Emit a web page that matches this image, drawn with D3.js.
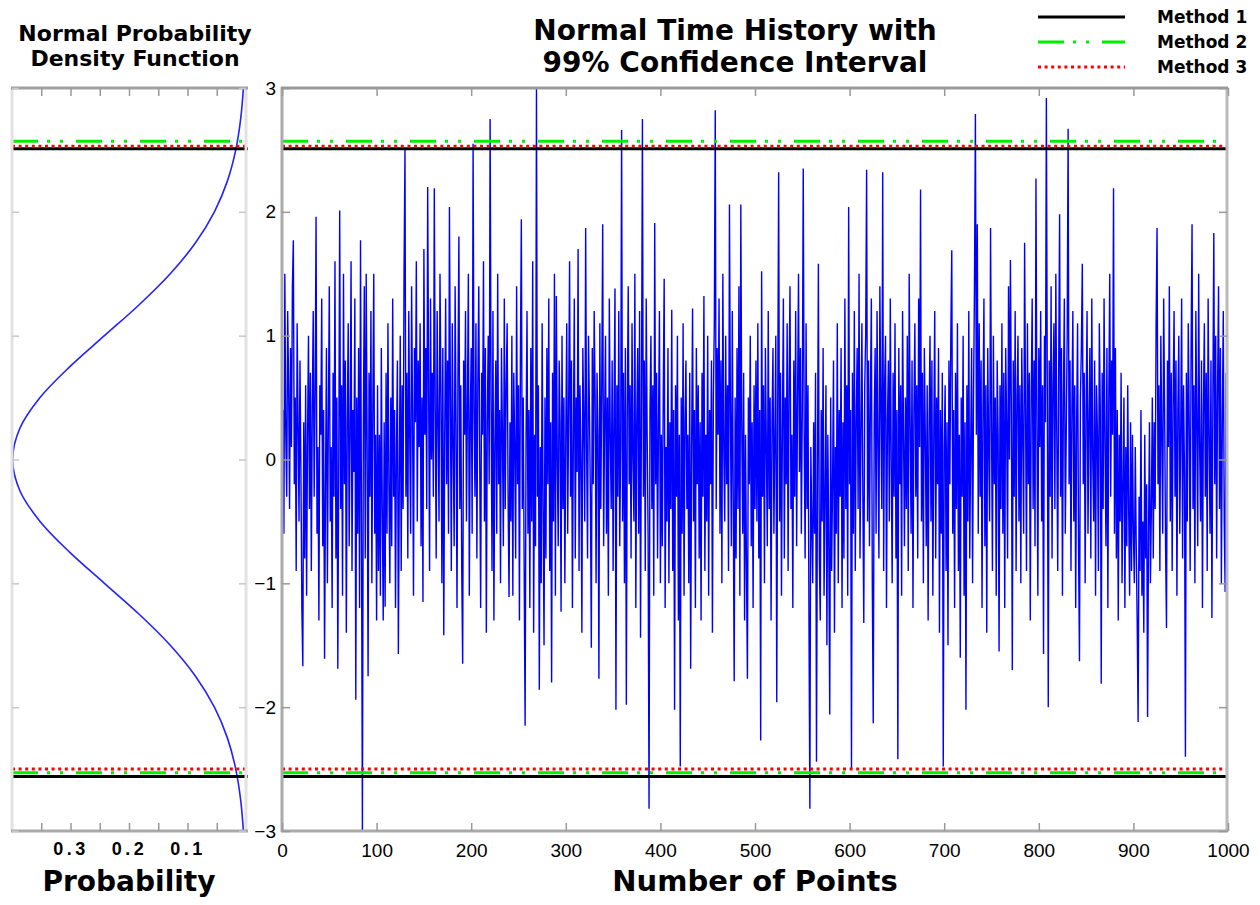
<!DOCTYPE html>
<html>
<head>
<meta charset="utf-8">
<script src="https://cdn.jsdelivr.net/npm/d3@7"></script>
<style>
body{margin:0;background:#fff;}
</style>
</head>
<body>
<svg id="chart" width="1260" height="905"></svg>
<script>
// time history, 1000 points
var seriesY = [
0.4,-0.6,1.5,0.2,-0.3,1.2,0.6,-0.4,0.9,0.1,1.4,1.77,-0.2,0.5,-0.9,1.1,0.3,-0.5,0.8,-0.1,
-1.2,-1.67,0.3,-0.8,0.6,-1.1,0.2,1.0,-0.4,0.7,-0.9,0.4,1.2,-0.3,0.5,1.96,-0.6,0.1,-1.3,0.6,
0.2,1.3,-0.7,0.4,-1.61,-0.2,0.9,-1.0,0.3,1.4,-0.5,0.1,-1.2,0.7,-0.3,1.6,-0.8,0.5,-1.69,0.0,
2.01,-0.4,0.6,-1.1,1.5,-0.2,0.8,-1.4,0.3,1.1,-0.7,0.2,1.6,-0.9,0.4,-0.1,1.3,-1.94,0.5,-0.6,
0.9,-1.2,1.77,-0.5,-3.0,0.3,1.4,-0.8,1.5,0.1,-1.75,0.7,-0.3,1.2,-1.0,0.4,1.5,-0.6,0.2,-1.3,
0.6,-0.9,0.2,-1.1,0.9,-0.4,-1.3,0.3,-1.19,0.7,-0.6,1.1,-0.2,-1.0,0.5,-0.7,1.3,-0.3,0.4,-1.2,
0.1,0.8,-1.57,-0.2,1.0,-0.9,0.6,-0.4,1.5,2.5,-0.3,0.7,-0.8,1.2,0.2,-0.6,1.4,0.4,-1.1,0.9,
0.3,1.6,-0.5,0.8,0.1,1.1,-0.7,0.5,-1.15,1.7,0.2,0.9,-0.4,2.2,0.6,-0.9,1.3,0.0,0.7,-0.3,
2.19,0.4,-0.8,1.2,0.3,-0.5,1.5,0.6,-1.0,0.9,-1.42,0.2,1.3,-0.2,0.8,-0.6,2.04,0.5,-0.9,1.1,
0.1,-0.7,1.4,0.3,-1.2,0.7,1.8,-0.4,0.6,-0.9,-1.65,0.8,0.2,1.2,-0.5,0.4,1.5,-1.1,0.3,0.9,
-0.6,2.55,0.4,-0.3,1.1,-0.8,0.6,1.4,0.0,-1.2,0.7,0.2,1.6,-0.5,0.9,-1.4,0.3,1.0,-0.2,2.75,
0.5,-0.9,1.2,-1.3,0.1,0.8,-0.6,1.5,-0.2,0.4,-1.0,0.9,0.2,-0.7,1.3,-0.4,0.6,1.1,-0.3,-1.11,
0.3,-0.5,1.0,-1.1,0.7,0.1,-0.8,1.4,-0.2,0.6,-1.3,0.8,1.94,-0.4,0.5,-0.9,-2.15,0.2,1.2,-0.6,
0.4,-1.2,0.9,-0.5,1.6,-1.4,0.2,-0.7,3.0,-0.3,0.6,-1.86,0.1,-1.0,1.1,-0.4,-1.5,0.5,-0.8,0.9,
-0.2,1.3,-0.9,0.3,-1.8,0.7,-0.5,1.5,-1.1,1.32,0.0,-0.7,0.8,0.3,-1.23,1.0,-0.4,0.5,-1.0,0.2,
1.1,-0.6,0.4,1.6,-0.3,0.8,-1.2,0.2,1.3,-0.8,0.5,-0.1,1.7,-0.9,0.6,0.0,-1.4,0.9,0.3,-0.5,
1.87,0.1,-0.8,1.0,0.4,-0.3,-1.52,0.9,-0.2,1.2,0.5,-1.0,0.7,0.2,-1.77,1.1,-0.4,0.6,1.9,-0.7,
0.3,1.0,-0.6,0.5,-1.1,1.3,0.2,-0.4,0.8,-0.9,0.4,1.38,-2.02,0.6,-0.3,1.2,-0.7,0.1,2.66,-0.5,
0.7,-1.0,0.9,-1.98,0.4,1.4,-0.2,0.6,-0.8,1.1,0.0,-0.5,1.5,-1.2,0.3,0.9,-0.6,1.2,-1.44,0.5,
2.75,-0.3,0.8,-0.9,1.3,0.2,-0.6,-2.82,0.4,1.0,-0.4,0.6,-1.1,1.91,-0.2,0.7,-0.8,0.3,1.2,-1.0,
0.2,-0.7,0.5,1.46,-1.2,0.1,-0.5,0.9,-1.0,0.3,-0.4,1.21,-0.9,0.4,-2.02,0.6,-0.3,1.0,-1.3,0.2,
-2.48,0.5,-0.6,1.1,-1.1,0.3,0.8,-0.4,0.2,-1.0,0.7,-1.69,0.1,1.22,-0.5,0.4,-1.2,0.9,-0.2,0.6,
-0.8,0.3,-1.3,0.7,-0.3,1.32,-0.9,0.2,-0.5,1.0,-1.1,0.4,-0.2,0.8,-1.4,0.5,1.1,2.82,-0.4,0.9,
0.2,1.3,-0.6,0.8,-1.0,1.5,0.1,-0.5,1.0,-0.2,0.6,-0.9,2.06,0.4,-0.7,1.2,-0.3,-1.79,0.5,-0.8,
0.9,-0.4,1.4,-1.1,2.06,0.3,-0.6,0.7,-1.3,0.2,-0.9,-1.77,0.5,-0.2,1.0,-0.7,0.3,-1.2,0.6,-0.4,
0.8,-0.5,1.1,-0.8,0.4,-2.27,1.52,-0.3,0.6,-1.0,0.9,0.1,-0.7,1.2,-0.4,0.5,-1.3,0.3,0.9,-0.6,
0.2,1.0,-1.96,0.4,2.32,-0.5,0.7,-1.1,0.3,1.3,-0.8,0.5,-0.2,1.1,-0.9,0.6,1.4,-0.4,0.2,-1.2,
0.8,-0.3,1.2,-0.7,0.5,1.5,-0.1,0.9,-0.6,0.4,2.35,0.2,-0.8,1.1,-0.4,0.6,-1.2,-2.82,0.1,-0.5,
-1.0,0.3,-0.6,0.7,-2.44,-0.2,1.58,-0.8,-1.3,0.4,-0.5,0.9,-1.1,-0.3,0.6,-1.5,0.2,-0.7,-2.06,0.5,
-0.9,-0.2,0.8,-1.4,0.1,-0.6,1.1,-1.0,0.4,-0.3,0.9,-1.2,0.3,-0.8,1.3,-0.4,0.6,-1.1,2.04,-0.2,
0.4,-2.5,0.7,-0.6,1.2,-0.9,0.3,0.9,-0.4,1.5,-0.8,0.2,1.1,-0.3,-1.32,0.6,1.0,2.34,-0.5,0.8,
-0.7,0.5,1.3,-1.0,-2.13,0.3,0.9,-0.6,1.2,0.1,-0.8,1.4,0.4,-0.4,2.32,-0.9,0.6,1.0,-1.2,0.3,
0.8,-0.5,1.3,0.0,-1.0,0.7,-0.3,1.1,-0.8,0.4,-2.42,0.9,-0.2,0.6,-1.1,1.2,0.2,-0.7,0.5,-0.4,
1.0,-0.9,1.5,0.3,-0.6,0.8,-1.2,0.4,1.1,-0.3,0.6,-0.8,1.3,0.1,2.18,-0.5,0.7,-1.0,0.9,0.2,
-0.7,0.6,-1.3,0.3,1.0,-0.5,0.8,-1.1,0.2,1.2,-0.8,0.5,-0.2,0.9,-1.4,0.4,-0.6,0.7,-2.48,0.1,
0.6,-0.9,0.3,-1.5,0.8,-0.2,1.0,1.69,-0.6,0.4,-1.2,0.7,-0.4,1.1,-0.9,0.2,-1.6,0.5,-0.3,1.0,
-1.1,0.3,-2.02,0.6,-0.5,1.2,-0.8,0.1,0.9,-1.0,0.5,1.4,2.79,0.2,1.9,-0.6,1.1,-0.3,0.8,-1.2,
0.4,1.3,-0.7,0.6,-1.4,0.9,0.1,-0.5,1.87,0.3,-0.9,1.0,-0.2,0.5,-1.1,0.8,0.2,-1.55,0.6,-0.4,
1.1,-0.6,0.7,-1.2,0.9,0.3,-0.8,1.4,0.0,1.61,0.4,-1.7,0.8,-0.3,1.2,-0.9,0.5,1.0,-0.5,0.6,
-1.0,0.9,0.2,-0.6,1.75,0.4,-0.9,1.1,-0.2,0.7,-1.3,0.5,1.3,-0.4,0.8,-0.7,2.27,0.3,-1.1,0.9,
0.1,1.2,-0.5,0.6,-1.57,1.0,0.3,2.92,0.5,-2.0,0.8,-0.3,1.4,-0.8,0.6,1.1,-0.4,1.5,0.2,-0.9,
0.7,1.98,-0.3,0.9,-1.1,0.5,1.3,-0.6,0.2,1.0,2.67,-0.2,0.8,-0.9,0.4,1.2,-0.5,0.6,-1.2,0.3,
1.1,-0.7,-1.63,0.5,0.9,1.58,-0.2,0.7,-1.0,0.4,1.2,-0.6,0.3,0.9,-0.8,1.3,0.0,-0.5,0.8,-1.1,
0.6,0.2,-0.9,1.1,0.4,-1.81,0.7,-0.4,1.3,0.1,-0.7,0.9,-1.2,0.5,1.5,-0.3,0.8,0.2,2.19,-0.6,
0.9,-0.8,0.4,-1.3,0.2,-0.5,0.7,-1.0,-0.2,0.5,-1.2,0.1,-0.7,0.6,-0.4,-1.1,0.3,-0.9,0.2,-0.6,
-1.0,0.1,-0.7,-1.3,-2.12,-0.3,-0.9,0.4,-1.1,-0.5,-1.4,0.2,-0.8,-0.2,-2.08,-0.6,0.3,-1.0,-0.4,0.5,
-0.8,0.3,-0.4,1.1,1.87,-0.2,0.6,-0.9,1.0,0.2,-0.6,1.3,0.4,-0.7,-1.36,0.8,0.1,1.4,-0.5,0.7,
-0.9,0.5,1.2,-0.3,0.8,-1.1,0.4,1.0,-0.6,0.2,1.3,-0.8,0.6,-0.1,-2.4,0.7,-0.5,1.1,0.3,-0.9,
0.9,1.9,-0.4,0.6,-1.0,1.2,0.3,-0.7,1.5,0.1,-0.5,0.8,-1.2,0.4,1.1,-0.3,0.7,-0.9,1.3,0.2,
-0.6,0.8,-1.28,0.5,1.83,-0.2,1.0,-0.8,0.6,1.4,-0.4,0.9,-1.0,0.3,1.2,-0.5,-1.07,0.7,0.2,1.0
];

// normal density
var pdfZ = [-3,-2.75,-2.5,-2.25,-2,-1.75,-1.5,-1.25,-1,-0.75,-0.5,-0.25,0,0.25,0.5,0.75,1,1.25,1.5,1.75,2,2.25,2.5,2.75,3];
var pdfP = [0.0044,0.0091,0.0175,0.0317,0.054,0.0863,0.1295,0.1826,0.242,0.3011,0.3521,0.3867,0.3989,
            0.3867,0.3521,0.3011,0.242,0.1826,0.1295,0.0863,0.054,0.0317,0.0175,0.0091,0.0044];

// confidence limits
var methodNames = ["Method 1", "Method 2", "Method 3"];
var methodUpper = [2.51, 2.57, 2.53];
var methodLower = [-2.56, -2.53, -2.50];
var methodColors = ["#000000", "#00ee00", "#ff0000"];
var methodDash = [null, "26,9,3,10,3,13", "3,3.6"];

var xTicks = [0,100,200,300,400,500,600,700,800,900,1000];
var yTicks = [-3,-2,-1,0,1,2,3];
var probTicks = [0.05,0.1,0.15,0.2,0.25,0.3,0.35];
var probLabels = [0.1,0.2,0.3];

var svg = d3.select("#chart");
var x = d3.scaleLinear().domain([0, 1000]).range([282, 1228]);
var y = d3.scaleLinear().domain([-3, 3]).range([831, 88]);
var px = d3.scaleLinear().domain([0.4, 0]).range([12, 246]);

var numFont = "'Liberation Sans', Arial, sans-serif";
var bold = "'DejaVu Sans', sans-serif";

var defs = svg.append("defs");
defs.append("clipPath").attr("id", "clipMain").append("rect")
  .attr("x", 282).attr("y", 88).attr("width", 946).attr("height", 743);
defs.append("clipPath").attr("id", "clipLeft").append("rect")
  .attr("x", 12).attr("y", 88).attr("width", 234).attr("height", 743);

// ---- left panel: density curve
var pdfLine = d3.line()
  .x(function(d, i){ return px(d); })
  .y(function(d, i){ return y(pdfZ[i]); })
  .curve(d3.curveCatmullRom);
svg.append("path").datum(pdfP)
  .attr("clip-path", "url(#clipLeft)")
  .attr("d", pdfLine)
  .attr("fill", "none")
  .attr("stroke", "#2222ff")
  .attr("stroke-width", 1.6);

// ---- right panel: time history
var line = d3.line()
  .x(function(d, i){ return x(i + 1); })
  .y(function(d){ return y(d); });
svg.append("path").datum(seriesY)
  .attr("clip-path", "url(#clipMain)")
  .attr("d", line)
  .attr("fill", "none")
  .attr("stroke", "#0000ff")
  .attr("stroke-width", 1.4);

// confidence lines in both panels
function drawLimits(x0, x1){
  for(var m = 0; m < methodNames.length; m++){
    [methodUpper[m], methodLower[m]].forEach(function(v){
      svg.append("line")
        .attr("x1", x0).attr("x2", x1)
        .attr("y1", y(v)).attr("y2", y(v))
        .attr("stroke", methodColors[m])
        .attr("stroke-width", 3)
        .attr("stroke-dasharray", methodDash[m]);
    });
  }
}
drawLimits(12, 248);
drawLimits(282, 1228);

// ---- frames
function frameLine(x1, y1, x2, y2, col){
  svg.append("line").attr("x1", x1).attr("y1", y1).attr("x2", x2).attr("y2", y2)
    .attr("stroke", col).attr("stroke-width", 3);
}
frameLine(12, 88, 12, 831, "#e2e2e2");
frameLine(246, 88, 246, 831, "#e2e2e2");
frameLine(11, 88, 248, 88, "#a0a0a0");
frameLine(11, 831, 248, 831, "#aaaaaa");
frameLine(282, 87, 282, 832, "#aaaaaa");
frameLine(1227, 87, 1227, 832, "#bbbbbb");
frameLine(281, 88, 1228, 88, "#999999");
frameLine(281, 831, 1228, 831, "#aaaaaa");

function styleAxis(g){
  g.select(".domain").remove();
  g.selectAll(".tick line").attr("stroke", "#999").attr("stroke-width", 1.5);
  g.selectAll("text").attr("fill", "#000");
}

// right panel axes
var gxb = svg.append("g").attr("transform", "translate(0,831)")
  .call(d3.axisBottom(x).tickValues(xTicks).tickSizeInner(-8).tickSizeOuter(0).tickPadding(13)
    .tickFormat(d3.format("d")));
gxb.attr("font-family", numFont).attr("font-size", 19);
styleAxis(gxb);

var gxt = svg.append("g").attr("transform", "translate(0,88)")
  .call(d3.axisTop(x).tickValues(xTicks).tickSizeInner(-8).tickSizeOuter(0).tickFormat(""));
styleAxis(gxt);

var gyl = svg.append("g").attr("transform", "translate(282,0)")
  .call(d3.axisLeft(y).tickValues(yTicks).tickSizeInner(-8).tickSizeOuter(0).tickPadding(6)
    .tickFormat(d3.format("d")));
gyl.attr("font-family", numFont).attr("font-size", 19);
styleAxis(gyl);

var gyr = svg.append("g").attr("transform", "translate(1227,0)")
  .call(d3.axisRight(y).tickValues(yTicks).tickSizeInner(-8).tickSizeOuter(0).tickFormat(""));
styleAxis(gyr);

// left panel axes
var gpb = svg.append("g").attr("transform", "translate(0,831)")
  .call(d3.axisBottom(px).tickValues(probTicks).tickSizeInner(-8).tickSizeOuter(0).tickPadding(11)
    .tickFormat(function(d){ return probLabels.indexOf(d) > -1 ? d3.format(".1f")(d) : ""; }));
gpb.attr("font-family", numFont).attr("font-size", 18).attr("font-weight", "bold");
gpb.selectAll("text").attr("letter-spacing", 3.5);
styleAxis(gpb);

var gpt = svg.append("g").attr("transform", "translate(0,88)")
  .call(d3.axisTop(px).tickValues(probTicks).tickSizeInner(-8).tickSizeOuter(0).tickFormat(""));
styleAxis(gpt);

var gpl = svg.append("g").attr("transform", "translate(12,0)")
  .call(d3.axisLeft(y).tickValues(yTicks).tickSizeInner(-7).tickSizeOuter(0).tickFormat(""));
styleAxis(gpl);
gpl.selectAll(".tick line").attr("stroke", "#c8c8c8");

var gpr = svg.append("g").attr("transform", "translate(246,0)")
  .call(d3.axisRight(y).tickValues(yTicks).tickSizeInner(-7).tickSizeOuter(0).tickFormat(""));
styleAxis(gpr);
gpr.selectAll(".tick line").attr("stroke", "#c8c8c8");

// ---- titles
function label(txt, xx, yy, size){
  svg.append("text").attr("x", xx).attr("y", yy)
    .attr("text-anchor", "middle")
    .attr("font-family", bold).attr("font-weight", "bold")
    .attr("font-size", size).attr("fill", "#000")
    .text(txt);
}
label("Normal Probability", 135, 41, 22);
label("Density Function", 135, 66, 22);
label("Normal Time History with", 735, 40, 28);
label("99% Confidence Interval", 735, 72, 28);
label("Probability", 129, 891, 28);
label("Number of Points", 755, 891, 29);

// ---- legend
var legend = svg.append("g");
methodNames.forEach(function(name, i){
  var ly = 17 + i * 25;
  legend.append("line")
    .attr("x1", 1038).attr("x2", 1125).attr("y1", ly).attr("y2", ly)
    .attr("stroke", methodColors[i]).attr("stroke-width", 3)
    .attr("stroke-dasharray", methodDash[i]);
  legend.append("text")
    .attr("x", 1157).attr("y", ly).attr("dy", "0.36em")
    .attr("font-family", bold).attr("font-weight", "bold")
    .attr("font-size", 17).attr("fill", "#000")
    .text(name);
});
</script>
</body>
</html>
